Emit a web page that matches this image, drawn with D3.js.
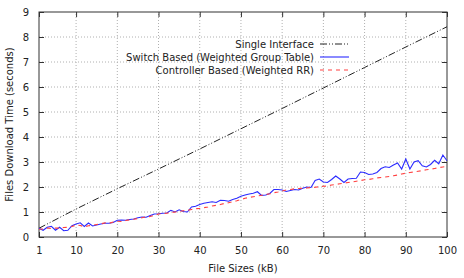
<!DOCTYPE html>
<html>
<head>
<meta charset="utf-8">
<script src="https://cdnjs.cloudflare.com/ajax/libs/d3/7.8.5/d3.min.js"></script>
<style>
	body { margin: 0; background: #fff; }
	svg { font-family: 'DejaVu Sans', Verdana, sans-serif; font-size: 10px; }
</style>
</head>
<body>
<div id="chartArea"></div>
<script>

// file sizes (kB)
var sizes = d3.range(1, 101);

// single interface, read at a few points (straight line)
var singleSizes = [1, 10, 20, 30, 40, 50, 60, 70, 80, 90, 100];
var singleTimes = [0.35, 1.12, 1.93, 2.72, 3.52, 4.33, 5.14, 5.96, 6.78, 7.6, 8.41];

// switch based (weighted group table)
var switchTimes = [
	0.35, 0.27, 0.39, 0.43, 0.27, 0.39, 0.25, 0.27, 0.45, 0.52,
	0.57, 0.42, 0.56, 0.44, 0.48, 0.52, 0.55, 0.55, 0.58, 0.67,
	0.68, 0.67, 0.70, 0.72, 0.77, 0.80, 0.79, 0.86, 0.92, 0.93,
	0.95, 0.96, 1.07, 1.00, 1.09, 1.02, 1.00, 1.20, 1.23, 1.30,
	1.35, 1.38, 1.41, 1.38, 1.47, 1.46, 1.43, 1.50, 1.55, 1.63,
	1.68, 1.72, 1.75, 1.81, 1.66, 1.68, 1.74, 1.90, 1.90, 1.88,
	1.82, 1.86, 1.90, 1.88, 1.95, 2.00, 1.98, 2.26, 2.32, 2.20,
	2.18, 2.30, 2.44, 2.32, 2.18, 2.32, 2.34, 2.35, 2.60, 2.58,
	2.50, 2.52, 2.58, 2.74, 2.81, 2.78, 2.88, 2.96, 2.72, 3.12,
	2.72, 3.00, 3.05, 2.85, 2.80, 2.90, 3.07, 2.93, 3.28, 3.05
];

// controller based (weighted RR)
var controllerTimes = [
	0.31, 0.32, 0.36, 0.34, 0.36, 0.35, 0.38, 0.39, 0.42, 0.48,
	0.46, 0.41, 0.45, 0.47, 0.50, 0.52, 0.57, 0.55, 0.60, 0.63,
	0.62, 0.66, 0.69, 0.71, 0.74, 0.77, 0.81, 0.82, 0.87, 0.92,
	0.94, 0.95, 0.98, 1.00, 1.02, 1.05, 1.07, 1.10, 1.13, 1.14,
	1.17, 1.20, 1.24, 1.27, 1.30, 1.34, 1.37, 1.41, 1.45, 1.50,
	1.55, 1.58, 1.61, 1.64, 1.67, 1.70, 1.73, 1.77, 1.80, 1.84,
	1.88, 1.90, 1.93, 1.94, 1.95, 1.96, 1.98, 1.99, 2.01, 2.03,
	2.04, 2.08, 2.10, 2.13, 2.15, 2.18, 2.20, 2.23, 2.26, 2.29,
	2.30, 2.33, 2.36, 2.38, 2.40, 2.42, 2.45, 2.48, 2.52, 2.55,
	2.58, 2.60, 2.63, 2.66, 2.69, 2.71, 2.74, 2.77, 2.80, 2.83
];

var xTicks = [1, 10, 20, 30, 40, 50, 60, 70, 80, 90, 100];
var yTicks = [0, 1, 2, 3, 4, 5, 6, 7, 8, 9];

var legendLabels = ['Single Interface', 'Switch Based (Weighted Group Table)', 'Controller Based (Weighted RR)'];


var width = 464, height = 278;
var margin = { top: 12, right: 17, bottom: 41, left: 39 };

var svg = d3.select('#chartArea').append('svg')
	.attr('width', width)
	.attr('height', height);

var x = d3.scaleLinear().domain([1, 100]).range([margin.left, width - margin.right]);
var y = d3.scaleLinear().domain([0, 9]).range([height - margin.bottom, margin.top]);

// grid
svg.append('g').selectAll('line')
	.data(xTicks.slice(1, -1))
	.enter().append('line')
	.attr('x1', function (d) { return x(d); })
	.attr('x2', function (d) { return x(d); })
	.attr('y1', y(0))
	.attr('y2', y(9))
	.attr('stroke', '#b0b0b0')
	.attr('stroke-dasharray', '1,2');

svg.append('g').selectAll('line')
	.data(yTicks.slice(1, -1))
	.enter().append('line')
	.attr('x1', x(1))
	.attr('x2', x(100))
	.attr('y1', function (d) { return y(d); })
	.attr('y2', function (d) { return y(d); })
	.attr('stroke', '#b0b0b0')
	.attr('stroke-dasharray', '1,2');

// axes, ticks inside and mirrored
var tickLen = 5;

var xAxis = svg.append('g')
	.attr('transform', 'translate(0,' + y(0) + ')')
	.call(d3.axisBottom(x).tickValues(xTicks).tickSize(-tickLen).tickPadding(10));

var xTop = svg.append('g')
	.attr('transform', 'translate(0,' + y(9) + ')')
	.call(d3.axisTop(x).tickValues(xTicks).tickSize(-tickLen).tickFormat(''));

var yAxis = svg.append('g')
	.attr('transform', 'translate(' + x(1) + ',0)')
	.call(d3.axisLeft(y).tickValues(yTicks).tickSize(-tickLen).tickPadding(10));

var yRight = svg.append('g')
	.attr('transform', 'translate(' + x(100) + ',0)')
	.call(d3.axisRight(y).tickValues(yTicks).tickSize(-tickLen).tickFormat(''));

[xAxis, xTop, yAxis, yRight].forEach(function (a) {
	a.selectAll('path, line').attr('stroke', '#333');
	a.selectAll('.domain').remove();
	a.selectAll('text').attr('font-size', 10).attr('fill', '#222')
		.attr('font-family', "'DejaVu Sans', Verdana, sans-serif");
});

svg.append('rect')
	.attr('x', x(1))
	.attr('y', y(9))
	.attr('width', x(100) - x(1))
	.attr('height', y(0) - y(9))
	.attr('fill', 'none')
	.attr('stroke', '#333');

// axis titles
svg.append('text')
	.attr('x', (x(1) + x(100)) / 2)
	.attr('y', 272)
	.attr('text-anchor', 'middle')
	.attr('fill', '#222')
	.text('File Sizes (kB)');

svg.append('text')
	.attr('transform', 'translate(13,' + (y(0) + y(9)) / 2 + ') rotate(-90)')
	.attr('text-anchor', 'middle')
	.attr('fill', '#222')
	.text('Files Download Time (seconds)');

// series
var line = d3.line()
	.x(function (d) { return x(d[0]); })
	.y(function (d) { return y(d[1]); });

var styles = [
	{ color: '#222', dash: '7,2,1,2,1,2', width: 1 },
	{ color: '#2b2bff', dash: null, width: 1.1 },
	{ color: '#ff4040', dash: '4,4', width: 1.2 }
];

var series = [
	d3.zip(singleSizes, singleTimes),
	d3.zip(sizes, switchTimes),
	d3.zip(sizes, controllerTimes)
];

series.forEach(function (s, i) {
	svg.append('path')
		.datum(s)
		.attr('d', line)
		.attr('fill', 'none')
		.attr('stroke', styles[i].color)
		.attr('stroke-width', styles[i].width)
		.attr('stroke-dasharray', styles[i].dash);
});

// legend
var legend = svg.append('g');
legendLabels.forEach(function (label, i) {
	var ly = 44 + i * 13;
	legend.append('text')
		.attr('x', 314)
		.attr('y', ly + 4)
		.attr('text-anchor', 'end')
		.attr('fill', '#222')
		.text(label);
	legend.append('line')
		.attr('x1', 320)
		.attr('x2', 349)
		.attr('y1', ly)
		.attr('y2', ly)
		.attr('stroke', styles[i].color)
		.attr('stroke-width', styles[i].width)
		.attr('stroke-dasharray', styles[i].dash);
});

</script>
</body>
</html>
